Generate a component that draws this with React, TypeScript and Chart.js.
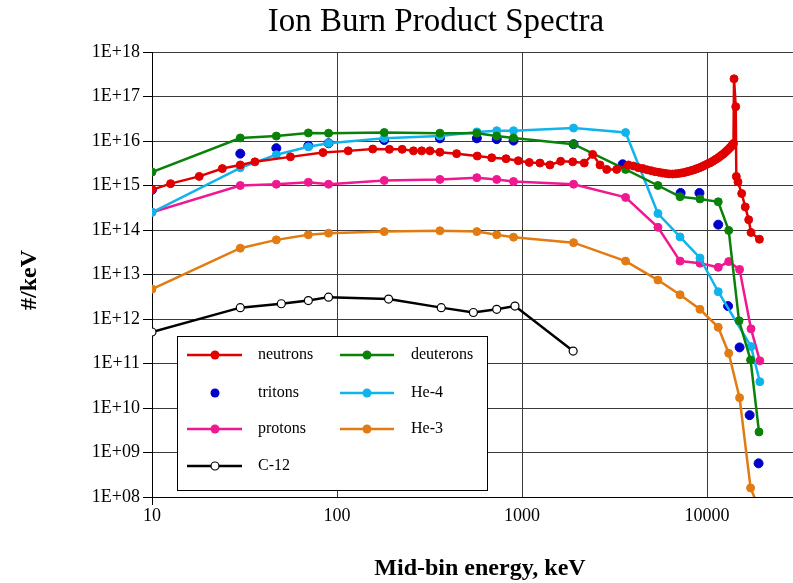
import { useEffect, useRef } from "react";
import { Chart, registerables } from "chart.js";

Chart.register(...registerables);

const TITLE = "Ion Burn Product Spectra";
const X_TITLE = "Mid-bin energy, keV";
const Y_TITLE = "#/keV";

const X_TICKS = [10, 100, 1000, 10000];
const Y_TICKS = [1e8, 1e9, 1e10, 1e11, 1e12, 1e13, 1e14, 1e15, 1e16, 1e17, 1e18];

const neutronsE = [10, 12.6, 18, 24, 30, 36, 56, 84, 115, 156, 192, 225, 259, 287, 318, 360, 443, 573, 686, 820, 955, 1095, 1250, 1416, 1618, 1880, 2170, 2410, 2640, 2870, 3250, 3760,
  4000, 4250, 4500, 4750, 5000, 5250, 5500, 5750, 6000, 6250, 6500, 6750, 7000, 7250, 7500, 7750, 8000, 8250, 8500, 8750, 9000, 9250, 9500, 9750,
  10000, 10250, 10500, 10750, 11000, 11250, 11500, 11750, 12000, 12250, 12500, 12750, 13000, 13250, 13500, 13700, 13900,
  14000, 14300, 14400, 14700, 15400, 16100, 16800, 17300, 19200];
const neutronsV = [8e14, 1.1e15, 1.6e15, 2.4e15, 2.9e15, 3.4e15, 4.4e15, 5.5e15, 6.0e15, 6.6e15, 6.5e15, 6.5e15, 6.0e15, 6.0e15, 6.0e15, 5.6e15, 5.2e15, 4.6e15, 4.2e15, 4.0e15, 3.6e15, 3.3e15, 3.2e15, 2.9e15, 3.5e15, 3.4e15, 3.2e15, 5.0e15, 2.9e15, 2.3e15, 2.3e15, 2.9e15,
  2.74e15, 2.52e15, 2.41e15, 2.25e15, 2.15e15, 2.04e15, 1.98e15, 1.91e15, 1.86e15, 1.82e15, 1.81e15, 1.83e15, 1.86e15, 1.91e15, 1.95e15, 2.03e15, 2.09e15, 2.18e15, 2.25e15, 2.37e15, 2.45e15, 2.58e15, 2.7e15, 2.86e15,
  3.0e15, 3.17e15, 3.3e15, 3.52e15, 3.74e15, 3.96e15, 4.2e15, 4.49e15, 4.8e15, 5.11e15, 5.5e15, 5.96e15, 6.4e15, 6.96e15, 7.5e15, 8.1e15, 8.8e15,
  2.5e17, 5.9e16, 1.6e15, 1.2e15, 6.6e14, 3.3e14, 1.7e14, 8.8e13, 6.2e13];

const deuteronsE = [10, 30, 47, 70, 90, 180, 360, 570, 730, 900, 1900, 3630, 5430, 7150, 9160, 11500, 13100, 14900, 17200, 19100];
const deuteronsV = [2.0e15, 1.17e16, 1.29e16, 1.52e16, 1.5e16, 1.55e16, 1.5e16, 1.5e16, 1.29e16, 1.17e16, 8.5e15, 2.3e15, 1.0e15, 5.6e14, 5.0e14, 4.3e14, 9.8e13, 9.1e11, 1.2e11, 2.9e9];

const tritonsE = [10, 30, 47, 70, 90, 180, 360, 570, 730, 900, 1900, 3500, 7200, 9100, 11500, 13000, 15000, 17000, 19000];
const tritonsV = [8e14, 5.2e15, 6.9e15, 7.8e15, 8.9e15, 1.05e16, 1.15e16, 1.15e16, 1.1e16, 1.02e16, 8.5e15, 3.0e15, 6.8e14, 6.8e14, 1.32e14, 1.95e12, 2.3e11, 6.9e9, 5.7e8];

const he4E = [10, 30, 47, 70, 90, 180, 360, 570, 730, 900, 1900, 3630, 5430, 7150, 9160, 11500, 17300, 19300];
const he4V = [2.5e14, 2.5e15, 4.9e15, 7.4e15, 8.9e15, 1.15e16, 1.3e16, 1.6e16, 1.7e16, 1.7e16, 1.95e16, 1.55e16, 2.35e14, 7.0e13, 2.35e13, 4.1e12, 2.4e11, 3.9e10];

const protonsE = [10, 30, 47, 70, 90, 180, 360, 570, 730, 900, 1900, 3630, 5430, 7150, 9160, 11500, 13100, 15000, 17300, 19300];
const protonsV = [2.5e14, 1.0e15, 1.07e15, 1.18e15, 1.07e15, 1.3e15, 1.37e15, 1.5e15, 1.37e15, 1.23e15, 1.07e15, 5.4e14, 1.15e14, 2.0e13, 1.8e13, 1.45e13, 1.95e13, 1.3e13, 6.0e11, 1.15e11];

const he3E = [10, 30, 47, 70, 90, 180, 360, 570, 730, 900, 1900, 3630, 5430, 7150, 9160, 11500, 13100, 15000, 17200, 19300];
const he3V = [4.7e12, 3.9e13, 6.0e13, 7.8e13, 8.5e13, 9.2e13, 9.6e13, 9.2e13, 7.8e13, 6.9e13, 5.2e13, 2.0e13, 7.5e12, 3.5e12, 1.65e12, 6.5e11, 1.7e11, 1.7e10, 1.6e8, 5e7];

const c12E = [10, 30, 50, 70, 90, 190, 366, 546, 730, 916, 1890];
const c12V = [5.1e11, 1.8e12, 2.2e12, 2.6e12, 3.1e12, 2.8e12, 1.8e12, 1.4e12, 1.65e12, 1.95e12, 1.9e11];

const COLORS = {
  neutrons: "#E00000",
  deuterons: "#0A820A",
  tritons: "#0000CC",
  he4: "#10B4EC",
  protons: "#F01890",
  he3: "#E27B12",
  c12: "#000000",
};

const SERIF = '"Liberation Serif", "Times New Roman", serif';

const pts = (e: number[], v: number[]) => e.map((x, i) => ({ x, y: v[i] }));

type LegendItem = { label: string; color: string; line: boolean; open?: boolean };
const LEGEND_ITEMS: LegendItem[][] = [
  [
    { label: "neutrons", color: COLORS.neutrons, line: true },
    { label: "tritons", color: COLORS.tritons, line: false },
    { label: "protons", color: COLORS.protons, line: true },
    { label: "C-12", color: COLORS.c12, line: true, open: true },
  ],
  [
    { label: "deuterons", color: COLORS.deuterons, line: true },
    { label: "He-4", color: COLORS.he4, line: true },
    { label: "He-3", color: COLORS.he3, line: true },
  ],
];

const overlay = {
  id: "overlay",
  afterDraw(chart: any) {
    const ctx = chart.ctx as CanvasRenderingContext2D;
    ctx.save();
    ctx.fillStyle = "#000";
    ctx.textAlign = "center";
    ctx.textBaseline = "middle";
    ctx.font = `33px ${SERIF}`;
    ctx.fillText(TITLE, 436, 22);
    ctx.font = `bold 24px ${SERIF}`;
    ctx.fillText(X_TITLE, 480, 569);
    ctx.save();
    ctx.translate(30, 280);
    ctx.rotate(-Math.PI / 2);
    ctx.fillText(Y_TITLE, 0, 0);
    ctx.restore();

    const a = chart.chartArea;
    ctx.strokeStyle = "#000";
    ctx.lineWidth = 1;
    ctx.beginPath();
    ctx.moveTo(Math.round(a.left) + 0.5, a.bottom);
    ctx.lineTo(Math.round(a.left) + 0.5, a.bottom + 8);
    ctx.stroke();

    // legend
    ctx.fillStyle = "#fff";
    ctx.fillRect(177.5, 336.5, 310, 154);
    ctx.strokeStyle = "#000";
    ctx.lineWidth = 1;
    ctx.strokeRect(177.5, 336.5, 310, 154);
    const cols = [
      { x1: 187, x2: 242, mx: 215, tx: 258 },
      { x1: 340, x2: 394, mx: 367, tx: 411 },
    ];
    const rows = [355, 393, 429, 466];
    LEGEND_ITEMS.forEach((col, ci) => {
      const c = cols[ci];
      col.forEach((it, ri) => {
        const y = rows[ri];
        if (it.line) {
          ctx.strokeStyle = it.color;
          ctx.lineWidth = 2.5;
          ctx.beginPath();
          ctx.moveTo(c.x1, y);
          ctx.lineTo(c.x2, y);
          ctx.stroke();
        }
        ctx.beginPath();
        ctx.arc(c.mx, y, it.open ? 4 : 4.5, 0, Math.PI * 2);
        ctx.fillStyle = it.open ? "#fff" : it.color;
        ctx.fill();
        if (it.open) {
          ctx.strokeStyle = it.color;
          ctx.lineWidth = 1.2;
          ctx.stroke();
        }
        ctx.fillStyle = "#000";
        ctx.textAlign = "left";
        ctx.textBaseline = "middle";
        ctx.font = `16px ${SERIF}`;
        ctx.fillText(it.label, c.tx, y);
      });
    });
    ctx.restore();
  },
};

const XMAX = Math.pow(10, 1 + (793 - 152) / 185);

export default function App() {
  const ref = useRef<HTMLCanvasElement | null>(null);
  useEffect(() => {
    if (!ref.current) return;
    const lineDs = (label: string, e: number[], v: number[], color: string, order: number, extra: any = {}) => ({
      label,
      data: pts(e, v),
      showLine: true,
      borderColor: color,
      backgroundColor: color,
      borderWidth: 2.5,
      pointRadius: 4,
      pointBorderWidth: 1,
      pointBorderColor: color,
      pointBackgroundColor: color,
      order,
      ...extra,
    });
    const chart = new Chart(ref.current, {
      type: "scatter",
      data: {
        datasets: [
          lineDs("neutrons", neutronsE, neutronsV, COLORS.neutrons, 0),
          lineDs("deuterons", deuteronsE, deuteronsV, COLORS.deuterons, 2),
          lineDs("tritons", tritonsE, tritonsV, COLORS.tritons, 5, { showLine: false, pointRadius: 4.5 }),
          lineDs("He-4", he4E, he4V, COLORS.he4, 3),
          lineDs("protons", protonsE, protonsV, COLORS.protons, 4),
          lineDs("He-3", he3E, he3V, COLORS.he3, 6),
          lineDs("C-12", c12E, c12V, COLORS.c12, 7, { pointBackgroundColor: "#fff", pointBorderColor: "#000", pointBorderWidth: 1.2 }),
        ],
      } as any,
      options: {
        animation: false,
        responsive: false,
        maintainAspectRatio: false,
        layout: { autoPadding: false, padding: { top: 52, left: 0, right: 0, bottom: 0 } },
        plugins: {
          legend: { display: false },
          tooltip: { enabled: false },
          title: { display: false },
        },
        scales: {
          x: {
            type: "logarithmic",
            min: 10,
            max: XMAX,
            afterBuildTicks: (s: any) => {
              s.ticks = X_TICKS.map((v) => ({ value: v }));
            },
            afterFit: (s: any) => {
              s.height = 86;
              s.paddingLeft = 0;
              s.paddingRight = 0;
            },
            grid: {
              color: "#3a3a3a",
              lineWidth: 1,
              drawTicks: true,
              tickLength: 8,
              tickColor: (c: any) => (c.index === 0 ? "#000" : "rgba(0,0,0,0)"),
            },
            border: { display: true, color: "#000", width: 1 },
            ticks: {
              color: "#000",
              font: { family: SERIF, size: 18 },
              padding: 0,
              maxRotation: 0,
              autoSkip: false,
              callback: (v: any) => String(v),
            },
          },
          y: {
            type: "logarithmic",
            min: 1e8,
            max: 1e18,
            afterBuildTicks: (s: any) => {
              s.ticks = Y_TICKS.map((v) => ({ value: v }));
            },
            afterFit: (s: any) => {
              s.width = 152;
              s.paddingTop = 0;
              s.paddingBottom = 0;
            },
            grid: {
              color: "#3a3a3a",
              lineWidth: 1,
              drawTicks: true,
              tickLength: 9,
              tickColor: "#000",
            },
            border: { display: true, color: "#000", width: 1 },
            ticks: {
              color: "#000",
              font: { family: SERIF, size: 18 },
              padding: 3,
              autoSkip: false,
              callback: (v: any) => {
                const exp = Math.round(Math.log10(Number(v)));
                return "1E+" + String(exp).padStart(2, "0");
              },
            },
          },
        },
      } as any,
      plugins: [overlay],
    });
    return () => chart.destroy();
  }, []);
  return (
    <div style={{ position: "fixed", left: 0, top: 0, width: 793, height: 583, background: "#fff" }}>
      <canvas ref={ref} width={793} height={583} style={{ display: "block", width: 793, height: 583 }} />
    </div>
  );
}
